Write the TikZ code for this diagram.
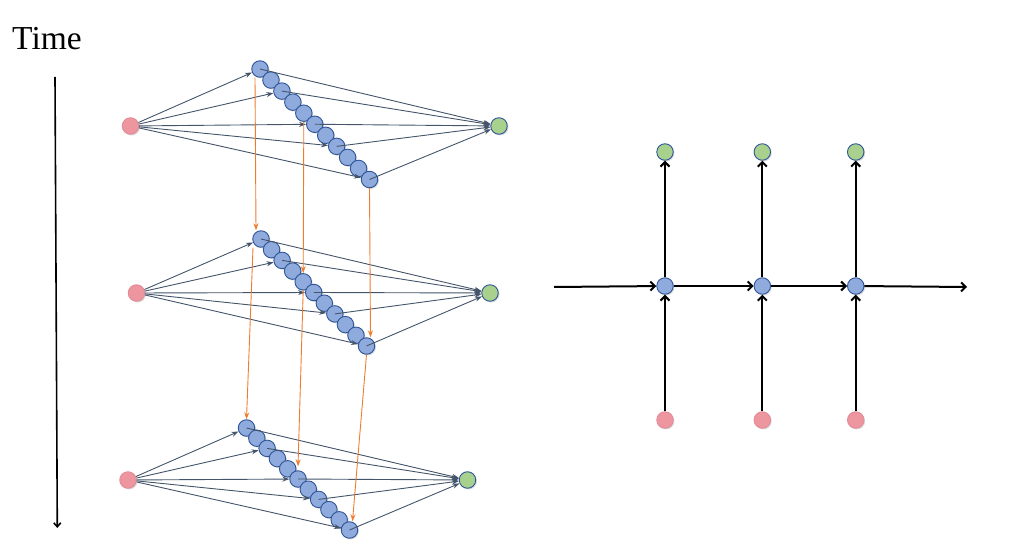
\documentclass[tikz,border=0pt]{standalone}
\usepackage{fontspec}
\setmainfont{Liberation Serif}
\usetikzlibrary{arrows.meta,shadows,calc}
\definecolor{bluefill}{RGB}{143,170,220}
\definecolor{blueline}{RGB}{47,85,151}
\definecolor{pinkfill}{RGB}{238,150,160}
\definecolor{pinkline}{RGB}{225,140,152}
\definecolor{greenfill}{RGB}{169,209,142}
\definecolor{slate}{RGB}{68,84,106}
\definecolor{orangeline}{RGB}{237,125,49}
\begin{document}
\begin{tikzpicture}[x=1pt,y=-1pt,
  nd/.style={circle, minimum size=16.5pt, inner sep=0pt, line width=0.9pt,
    drop shadow={opacity=0.3,shadow xshift=1.2pt,shadow yshift=-1.2pt}},
  bnode/.style={nd, fill=bluefill, draw=blueline},
  pnode/.style={nd, fill=pinkfill, draw=pinkline},
  gnode/.style={nd, fill=greenfill, draw=blueline},
  conn/.style={draw=slate, line width=0.9pt, -{Stealth[length=7pt,width=5pt]}},
  orarrow/.style={draw=orangeline, line width=0.9pt, -{Stealth[length=7pt,width=5pt]}},
  rarrow/.style={draw=black, line width=2pt, -{Straight Barb[length=4.5pt,width=9pt]}},
  timearrow/.style={draw=black, line width=1.6pt, -{Straight Barb[length=4pt,width=7pt]}},
]
\useasboundingbox (0,0) rectangle (1033,545);

% Time axis
\node[font=\fontsize{33.5}{38}\selectfont, inner sep=0pt] (time) at (47,39) {Time};
\coordinate (ts) at (55,77);
\coordinate (te) at (57.3,528);
\draw[timearrow] (ts) -- (te);

% three unrolled networks
\foreach \p/\bx/\by/\ex/\ey/\px/\py/\gx/\gy in
  {t/260/69/369.5/179.5/130.5/126/499/126,
   m/261/239/366.5/346/136.5/293/490/293,
   b/246.5/428/349.5/530/128/480/467.5/480}{
  \node[pnode] (\p-pink) at (\px,\py) {};
  \node[gnode] (\p-green) at (\gx,\gy) {};
  \foreach \i in {0,...,10}{
    \node[bnode] (\p\i) at ({\bx+(\ex-\bx)*\i/10},{\by+(\ey-\by)*\i/10}) {};
  }
  \foreach \i in {0,2,5,7,10}{
    \draw[conn] (\p-pink) -- (\p\i);
    \draw[conn] (\p\i.center) -- (\p-green);
  }
}

% orange temporal links
\draw[orarrow] ([xshift=-5pt]t0.south) -- ([xshift=-5pt]m0.north);
\draw[orarrow] (t4.south) -- (m4.north);
\draw[orarrow] (t10.south) -- ([xshift=4pt]m10.north);
\draw[orarrow] ([xshift=-8pt]m0.south) -- (b0.north);
\draw[orarrow] (m4.south) -- ([yshift=4pt]b5.north);
\draw[orarrow] (m10.south) -- ([xshift=3pt]b10.north);

% right: recurrent chain
\foreach \k/\x in {1/665,2/762.3,3/855.7}{
  \node[gnode] (g\k) at (\x,152) {};
  \node[bnode] (h\k) at (\x,286) {};
  \node[pnode] (x\k) at (\x,420) {};
  \draw[rarrow] (x\k) -- (h\k);
  \draw[rarrow] (h\k) -- (g\k);
}
\coordinate (hin) at (554,287);
\coordinate (hout) at (967,287);
\draw[rarrow] (hin) -- (h1);
\draw[rarrow] (h1) -- (h2);
\draw[rarrow] (h2) -- (h3);
\draw[rarrow] (h3) -- (hout);
\end{tikzpicture}
\end{document}
